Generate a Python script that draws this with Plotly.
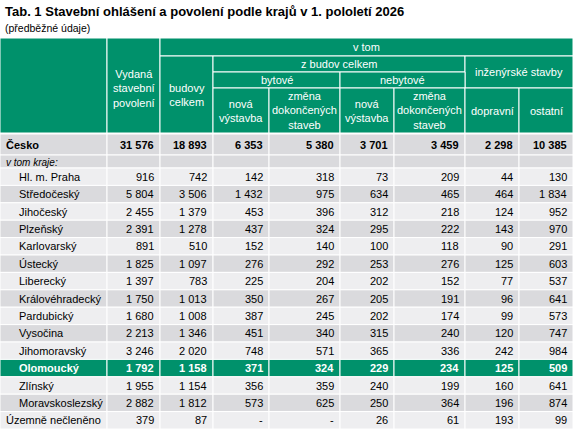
import plotly.graph_objects as go

title = "Tab. 1 Stavební ohlášení a povolení podle krajů v 1. pololetí 2026"
subtitle = "(předběžné údaje)"
regions = ["Hl. m. Praha", "Středočeský", "Jihočeský", "Plzeňský", "Karlovarský", "Ústecký",
           "Liberecký", "Královéhradecký", "Pardubický", "Vysočina", "Jihomoravský", "Olomoucký",
           "Zlínský", "Moravskoslezský", "Územně nečleněno"]
cesko = ["31 576", "18 893", "6 353", "5 380", "3 701", "3 459", "2 298", "10 385"]
vydana = ["916", "5 804", "2 455", "2 391", "891", "1 825", "1 397", "1 750", "1 680", "2 213", "3 246", "1 792", "1 955", "2 882", "379"]
budovy = ["742", "3 506", "1 379", "1 278", "510", "1 097", "783", "1 013", "1 008", "1 346", "2 020", "1 158", "1 154", "1 812", "87"]
byt_nova = ["142", "1 432", "453", "437", "152", "276", "225", "350", "387", "451", "748", "371", "356", "573", "-"]
byt_zmena = ["318", "975", "396", "324", "140", "292", "204", "267", "245", "340", "571", "324", "359", "625", "-"]
neb_nova = ["73", "634", "312", "295", "100", "253", "202", "205", "202", "315", "365", "229", "240", "250", "26"]
neb_zmena = ["209", "465", "218", "222", "118", "276", "152", "191", "174", "240", "336", "234", "199", "364", "61"]
dopravni = ["44", "464", "124", "143", "90", "125", "77", "96", "99", "120", "242", "125", "160", "196", "193"]
ostatni = ["130", "1 834", "952", "970", "291", "603", "537", "641", "573", "747", "984", "509", "641", "874", "99"]
highlight = "Olomoucký"

GREEN = "#00916b"
LIGHT = "#eeeef0"
DARK = "#dadadd"
FONT = "Liberation Sans, Arial, sans-serif"
cols = [0, 107, 160, 213, 269, 340, 394, 465, 519, 573]

fig = go.Figure()
shapes, ann = [], []

def rect(x0, y0, x1, y1, color):
    shapes.append(dict(type="rect", x0=x0, x1=x1, y0=y0, y1=y1, fillcolor=color,
                       line=dict(color="white", width=1), layer="below"))

def text(x, y, t, anchor="center", color="black", size=11, bold=False, italic=False):
    if bold: t = "<b>" + t + "</b>"
    if italic: t = "<i>" + t + "</i>"
    ann.append(dict(x=x, y=y, text=t, showarrow=False, xanchor=anchor, yanchor="middle",
                    font=dict(family=FONT, size=size, color=color)))

text(3, 11, title, "left", size=13, bold=True)
text(3, 28, subtitle, "left", size=10.5)

H0, H1, H2, H3, H4 = 38, 56, 72, 88, 133
rect(cols[0], H0, cols[1], H4, GREEN)
rect(cols[1], H0, cols[2], H4, GREEN)
text((cols[1]+cols[2])/2, 88, "Vydaná<br>stavební<br>povolení", color="white")
rect(cols[2], H0, cols[9], H1, GREEN)
text((cols[2]+cols[9])/2, (H0+H1)/2, "v tom", color="white")
rect(cols[2], H1, cols[3], H4, GREEN)
text((cols[2]+cols[3])/2, 95, "budovy<br>celkem", color="white")
rect(cols[3], H1, cols[7], H2, GREEN)
text((cols[3]+cols[7])/2, (H1+H2)/2, "z budov celkem", color="white")
rect(cols[7], H1, cols[9], H3, GREEN)
text((cols[7]+cols[9])/2, (H1+H3)/2, "inženýrské stavby", color="white")
rect(cols[3], H2, cols[5], H3, GREEN)
text((cols[3]+cols[5])/2, (H2+H3)/2, "bytové", color="white")
rect(cols[5], H2, cols[7], H3, GREEN)
text((cols[5]+cols[7])/2, (H2+H3)/2, "nebytové", color="white")
leaf = ["nová<br>výstavba", "změna<br>dokončených<br>staveb", "nová<br>výstavba",
        "změna<br>dokončených<br>staveb", "dopravní", "ostatní"]
for i, lab in enumerate(leaf):
    c0, c1 = cols[3+i], cols[4+i]
    rect(c0, H3, c1, H4, GREEN)
    text((c0+c1)/2, (H3+H4)/2, lab, color="white")

R0, R1 = 134, 155
for i in range(9):
    rect(cols[i], R0, cols[i+1], R1, DARK)
text(4, (R0+R1)/2, "Česko", "left", bold=True)
for i, v in enumerate(cesko):
    text(cols[i+2]-4, (R0+R1)/2, v, "right", bold=True)
K1 = 168
for i in range(9):
    rect(cols[i], R1, cols[i+1], K1, DARK)
text(4, (R1+K1)/2 + 0.5, "v tom kraje:", "left", size=10, italic=True)

series = [vydana, budovy, byt_nova, byt_zmena, neb_nova, neb_zmena, dopravni, ostatni]
rh = (429 - K1) / len(regions)
for r, name in enumerate(regions):
    y0 = K1 + r*rh
    y1 = y0 + rh
    hl = name == highlight
    bg = GREEN if hl else (LIGHT if r % 2 == 0 else DARK)
    col = "white" if hl else "black"
    for i in range(9):
        rect(cols[i], y0, cols[i+1], y1, bg)
    last = r == len(regions) - 1
    text(4 if last else 17, (y0+y1)/2, name, "left", color=col, bold=hl)
    for i, s in enumerate(series):
        text(cols[i+2]-4, (y0+y1)/2, s[r], "right", color=col, bold=hl)

fig.update_layout(width=573, height=430, margin=dict(l=0, r=0, t=0, b=0),
                  paper_bgcolor="white", plot_bgcolor="white",
                  xaxis=dict(range=[0, 573], visible=False, fixedrange=True),
                  yaxis=dict(range=[430, 0], visible=False, fixedrange=True),
                  shapes=shapes, annotations=ann, showlegend=False)
fig.write_html("out.html", config={"displayModeBar": False},
               post_script="document.body.style.margin='0';document.body.style.overflow='hidden';")
